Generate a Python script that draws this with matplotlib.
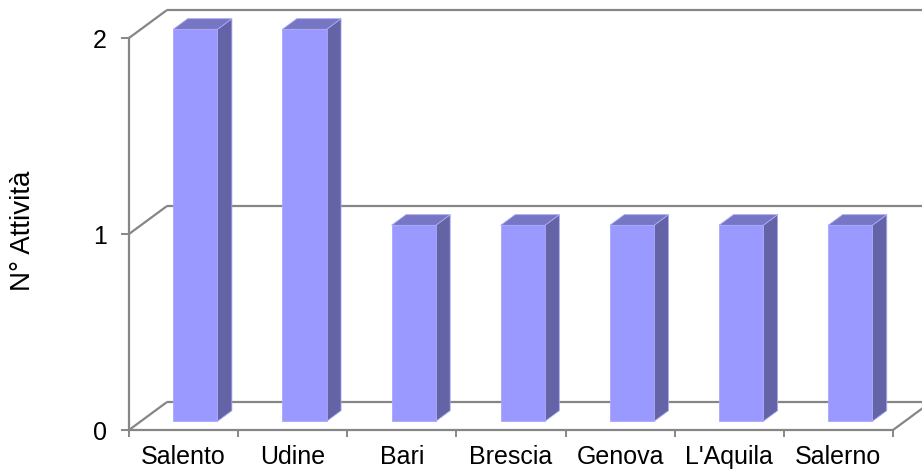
import matplotlib.pyplot as plt
from matplotlib.patches import Polygon
from matplotlib.lines import Line2D
from matplotlib.transforms import IdentityTransform

plt.rcParams['font.family'] = ['Liberation Sans', 'DejaVu Sans']

cities = ["Salento", "Udine", "Bari", "Brescia", "Genova", "L'Aquila", "Salerno"]
attivita = [2, 2, 1, 1, 1, 1, 1]
y_ticks = [0, 1, 2]

W, H, DPI = 922, 472, 100
DX, DY = 38, 28          # pixel offset of the back wall (oblique depth)
GRID = '#868686'
FRONT, SIDE, TOP = '#9999FF', '#6363A5', '#7676C4'

fig = plt.figure(figsize=(W / DPI, H / DPI), dpi=DPI)
# axes = front plane of the 3-D box
ax = fig.add_axes([129 / W, (H - 430) / H, (893 - 129) / W, (430 - 38) / H])
ax.set_xlim(0, len(cities))
ax.set_ylim(0, max(y_ticks))
ax.patch.set_visible(False)
for s in ('top', 'right'):
    ax.spines[s].set_visible(False)
for s in ('left', 'bottom'):
    ax.spines[s].set_color(GRID)
    ax.spines[s].set_linewidth(1.6)

ax.set_yticks(y_ticks)
ax.tick_params(axis='y', direction='out', length=6, width=1.4, color=GRID,
               labelsize=18, pad=10)
ax.set_xticks(range(len(cities) + 1))
ax.set_xticklabels([])
ax.set_xticks([i + 0.5 for i in range(len(cities))], minor=True)
ax.set_xticklabels(cities, minor=True)
ax.tick_params(axis='x', which='major', direction='out', length=5, width=1.4, color=GRID)
ax.tick_params(axis='x', which='minor', length=0, labelsize=18, pad=11)

fig.text(23 / W, 1 - 231 / H, "N° Attività", fontsize=20, rotation=90,
         ha='center', va='center')


def proj(x, y, d):
    # data point on the front plane pushed back by depth fraction d
    px, py = ax.transData.transform((x, y))
    return px + d * DX, py + d * DY


def line(p0, p1, z=1):
    fig.add_artist(Line2D([p0[0], p1[0]], [p0[1], p1[1]], transform=IdentityTransform(),
                          color=GRID, lw=1.6, zorder=z, solid_capstyle='butt'))


n = len(cities)
# back wall gridlines and side wall diagonals
for v in y_ticks:
    line(proj(0, v, 1), proj(n, v, 1))
    line(proj(0, v, 0), proj(0, v, 1))
# floor right edge
line(proj(n, 0, 0), proj(n, 0, 1))

bw, d0, d1 = 0.405, 0.31, 0.69
for i, v in enumerate(attivita):
    x0 = i + 0.5 - bw / 2
    x1 = x0 + bw
    side = [proj(x1, 0, d0), proj(x1, 0, d1), proj(x1, v, d1), proj(x1, v, d0)]
    top = [proj(x0, v, d0), proj(x1, v, d0), proj(x1, v, d1), proj(x0, v, d1)]
    front = [proj(x0, 0, d0), proj(x1, 0, d0), proj(x1, v, d0), proj(x0, v, d0)]
    for pts, col in ((side, SIDE), (top, TOP), (front, FRONT)):
        fig.add_artist(Polygon(pts, closed=True, transform=IdentityTransform(),
                               facecolor=col, edgecolor='#A9A9F5', lw=0.6, zorder=3))

fig.savefig('out.png', dpi=DPI)
